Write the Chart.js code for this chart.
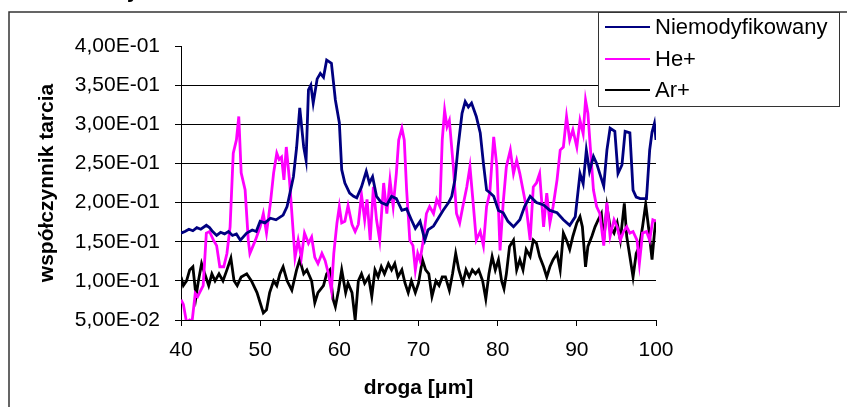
<!DOCTYPE html>
<html><head><meta charset="utf-8">
<script src="https://cdn.jsdelivr.net/npm/chart.js@4/dist/chart.umd.min.js"></script>
<style>html,body{margin:0;padding:0;background:#fff;overflow:hidden}#wrap{width:847px;height:407px;position:relative}</style>
</head><body><div id="wrap"><canvas id="c" width="847" height="407"></canvas></div>
<script>
const seriesNames = ['Niemodyfikowany', 'He+', 'Ar+'];
const seriesColors = ['#000080', '#FF00FF', '#000000'];
const xTicks = [40, 50, 60, 70, 80, 90, 100];
const yTicks = [0.05, 0.10, 0.15, 0.20, 0.25, 0.30, 0.35, 0.40];
const yTickLabels = ['5,00E-02', '1,00E-01', '1,50E-01', '2,00E-01', '2,50E-01', '3,00E-01', '3,50E-01', '4,00E-01'];
const xTitle = 'droga [\u03bcm]';
const yTitle = 'współczynnik tarcia';

const niemodyfikowany = [[40,0.161],[40.5,0.163],[41,0.166],[41.5,0.164],[42,0.168],[42.5,0.166],[43.2,0.171],[43.6,0.168],[44,0.163],[44.5,0.158],[45,0.162],[45.5,0.16],[46,0.163],[46.5,0.158],[47,0.16],[47.5,0.152],[48.3,0.161],[49,0.165],[49.5,0.163],[50,0.176],[50.6,0.174],[51.3,0.18],[52,0.178],[52.9,0.184],[53.4,0.195],[54.2,0.233],[54.6,0.27],[55,0.321],[55.5,0.271],[55.8,0.254],[56.1,0.344],[56.4,0.35],[56.7,0.327],[57.2,0.358],[57.6,0.365],[58,0.36],[58.4,0.382],[58.7,0.38],[59,0.378],[59.5,0.331],[60,0.302],[60.3,0.242],[60.7,0.225],[61.3,0.212],[61.8,0.208],[62.2,0.206],[62.8,0.22],[63.4,0.24],[63.8,0.225],[64.2,0.233],[64.7,0.208],[65.3,0.2],[66,0.197],[66.6,0.208],[67.2,0.205],[67.9,0.19],[68.5,0.192],[69.1,0.178],[69.6,0.167],[70.2,0.176],[70.8,0.152],[71.2,0.165],[71.9,0.17],[72.5,0.18],[73.1,0.19],[73.8,0.2],[74.2,0.208],[74.6,0.229],[75,0.271],[75.5,0.314],[75.9,0.329],[76.3,0.322],[76.7,0.327],[77.3,0.31],[77.8,0.289],[78.2,0.25],[78.6,0.216],[79.1,0.212],[79.5,0.208],[80.1,0.19],[80.7,0.187],[81.3,0.176],[82,0.169],[82.8,0.178],[83.4,0.195],[84.1,0.208],[84.9,0.2],[85.8,0.197],[86.6,0.19],[87.5,0.187],[88.3,0.178],[89.1,0.171],[89.8,0.182],[90.4,0.237],[90.8,0.224],[91.2,0.267],[91.6,0.24],[92.1,0.259],[92.5,0.25],[92.9,0.237],[93.4,0.221],[93.8,0.267],[94.2,0.295],[94.8,0.291],[95.2,0.237],[95.7,0.248],[96.1,0.291],[96.7,0.289],[97.1,0.216],[97.5,0.207],[98,0.205],[98.8,0.205],[99.2,0.267],[99.5,0.29],[99.8,0.301],[100,0.28]];

const hePlus = [[40,0.076],[40.3,0.07],[40.7,0.047],[41.1,0.05],[41.4,0.048],[41.8,0.084],[42.1,0.08],[42.4,0.086],[42.8,0.094],[43.2,0.161],[43.6,0.163],[44.1,0.152],[44.5,0.145],[44.9,0.118],[45.4,0.118],[45.8,0.135],[46.2,0.169],[46.6,0.263],[47,0.28],[47.3,0.31],[47.6,0.238],[48.1,0.216],[48.5,0.152],[48.7,0.135],[49.4,0.152],[50,0.169],[50.4,0.186],[50.8,0.161],[51.3,0.2],[51.7,0.238],[52.1,0.263],[52.4,0.255],[52.7,0.258],[53,0.229],[53.3,0.271],[53.7,0.229],[54,0.187],[54.4,0.13],[54.8,0.152],[55.2,0.13],[55.6,0.161],[56.1,0.148],[56.5,0.156],[56.9,0.13],[57.3,0.122],[57.8,0.135],[58.2,0.126],[58.6,0.11],[59,0.088],[59.3,0.135],[59.7,0.174],[60,0.195],[60.3,0.174],[60.7,0.176],[61.1,0.196],[61.6,0.172],[62,0.163],[62.4,0.172],[62.8,0.21],[63.2,0.178],[63.5,0.204],[63.9,0.152],[64.3,0.22],[64.7,0.178],[65.1,0.152],[65.6,0.225],[66,0.186],[66.4,0.229],[66.8,0.195],[67.2,0.237],[67.5,0.28],[67.9,0.295],[68.2,0.28],[68.5,0.216],[68.9,0.152],[69.3,0.145],[69.6,0.114],[69.9,0.135],[70.2,0.126],[70.6,0.152],[71,0.186],[71.4,0.195],[71.9,0.186],[72.3,0.204],[72.7,0.195],[73,0.28],[73.3,0.318],[73.6,0.297],[73.9,0.305],[74.4,0.246],[74.8,0.186],[75.2,0.174],[75.6,0.195],[76.1,0.22],[76.5,0.246],[76.9,0.2],[77.3,0.152],[77.8,0.163],[78.2,0.145],[78.6,0.195],[79,0.212],[79.5,0.284],[79.9,0.246],[80.3,0.139],[80.7,0.2],[81.1,0.246],[81.6,0.267],[82,0.237],[82.4,0.254],[82.8,0.237],[83.2,0.216],[83.6,0.195],[84.1,0.152],[84.5,0.22],[84.9,0.225],[85.3,0.237],[85.8,0.169],[86.2,0.212],[86.6,0.174],[87,0.195],[87.5,0.229],[87.9,0.267],[88.3,0.271],[88.7,0.31],[89.1,0.28],[89.5,0.293],[90,0.271],[90.4,0.305],[90.8,0.288],[91.1,0.331],[91.4,0.314],[91.7,0.271],[92.1,0.216],[92.5,0.195],[92.9,0.186],[93.4,0.145],[93.8,0.2],[94.2,0.157],[94.7,0.178],[95.1,0.169],[95.5,0.152],[95.9,0.163],[96.3,0.169],[96.7,0.161],[97.1,0.163],[97.6,0.152],[97.9,0.122],[98.3,0.161],[98.8,0.163],[99.2,0.152],[99.6,0.178],[100,0.176]];

const arPlus = [[40,0.105],[40.3,0.094],[40.7,0.1],[41.1,0.114],[41.5,0.118],[41.9,0.08],[42.2,0.1],[42.6,0.122],[43,0.109],[43.5,0.094],[43.9,0.109],[44.3,0.1],[44.8,0.109],[45.3,0.1],[45.8,0.114],[46.3,0.129],[46.7,0.1],[47.1,0.094],[47.6,0.105],[48.3,0.109],[48.9,0.1],[49.6,0.085],[50,0.072],[50.4,0.059],[50.8,0.063],[51.2,0.085],[51.7,0.1],[52.1,0.094],[52.5,0.109],[52.9,0.118],[53.4,0.1],[54,0.088],[54.6,0.114],[55,0.127],[55.5,0.109],[55.9,0.114],[56.5,0.1],[56.9,0.072],[57.3,0.085],[58,0.094],[58.4,0.109],[58.8,0.114],[59.2,0.077],[59.5,0.067],[59.9,0.088],[60.3,0.114],[60.8,0.085],[61.1,0.097],[61.6,0.085],[62,0.05],[62.4,0.1],[62.8,0.109],[63.2,0.097],[63.7,0.105],[64.1,0.08],[64.5,0.114],[64.9,0.105],[65.3,0.118],[65.7,0.109],[66.2,0.122],[66.6,0.114],[67,0.122],[67.4,0.105],[67.9,0.114],[68.3,0.097],[68.7,0.085],[69.1,0.1],[69.6,0.085],[70,0.097],[70.5,0.127],[70.9,0.114],[71.3,0.109],[71.7,0.08],[72.2,0.1],[72.6,0.094],[73,0.105],[73.4,0.105],[73.9,0.088],[74.3,0.109],[74.7,0.135],[75.1,0.114],[75.6,0.097],[76,0.114],[76.4,0.105],[76.8,0.114],[77.2,0.109],[77.6,0.114],[78.1,0.1],[78.5,0.077],[78.9,0.109],[79.3,0.131],[79.7,0.114],[80.1,0.127],[80.5,0.1],[80.8,0.09],[81.1,0.109],[81.5,0.144],[82,0.152],[82.4,0.114],[82.8,0.127],[83.2,0.114],[83.6,0.14],[84.1,0.131],[84.5,0.152],[84.9,0.148],[85.3,0.131],[85.8,0.118],[86.2,0.105],[86.6,0.118],[87,0.127],[87.5,0.135],[87.9,0.114],[88.3,0.161],[88.7,0.152],[89.1,0.14],[89.5,0.157],[90,0.174],[90.4,0.182],[90.7,0.169],[91.1,0.118],[91.4,0.144],[91.9,0.157],[92.3,0.169],[92.7,0.178],[93.1,0.186],[93.4,0.152],[93.8,0.195],[94.2,0.169],[94.7,0.161],[95.1,0.174],[95.5,0.152],[96,0.199],[96.3,0.157],[96.7,0.131],[97.1,0.105],[97.5,0.135],[97.9,0.144],[98.3,0.169],[98.7,0.198],[99.1,0.165],[99.5,0.127],[99.8,0.161],[100,0.178]];

const seriesData = [niemodyfikowany, hePlus, arPlus];
const FONT = "'Liberation Sans', Arial, sans-serif";

const framePlugin = {
  id: 'frame',
  beforeDraw(chart) {
    const ctx = chart.ctx;
    ctx.save();
    ctx.fillStyle = '#fff';
    ctx.fillRect(0, 0, chart.width, chart.height);
    ctx.restore();
  },
  afterDraw(chart) {
    const ctx = chart.ctx;
    ctx.save();
    ctx.strokeStyle = '#333';
    ctx.lineWidth = 1.5;
    ctx.beginPath();
    ctx.moveTo(9, chart.height + 2);
    ctx.lineTo(9, 12);
    ctx.lineTo(chart.width + 2, 12);
    ctx.stroke();
    ctx.fillStyle = '#000';
    ctx.font = "bold 21px " + FONT;
    ctx.textBaseline = 'alphabetic';
    ctx.textAlign = 'left';
    ctx.fillText('y', 127, -2);
    const bx = 598.5, by = 12.5, bw = 241, bh = 94;
    ctx.fillStyle = '#fff';
    ctx.fillRect(bx, by, bw, bh);
    ctx.strokeStyle = '#333';
    ctx.lineWidth = 1;
    ctx.strokeRect(bx, by, bw, bh);
    const rows = [27, 59, 90];
    ctx.font = "22px " + FONT;
    ctx.textBaseline = 'middle';
    chart.data.datasets.forEach((ds, i) => {
      ctx.strokeStyle = ds.borderColor;
      ctx.lineWidth = 2;
      ctx.beginPath();
      ctx.moveTo(605, rows[i]);
      ctx.lineTo(650, rows[i]);
      ctx.stroke();
      ctx.fillStyle = '#000';
      ctx.fillText(ds.label, 655, rows[i] + 1);
    });
    ctx.restore();
  }
};

new Chart(document.getElementById('c'), {
  type: 'line',
  data: {
    datasets: seriesNames.map((name, i) => ({
      label: name,
      data: seriesData[i].map(p => ({x: p[0], y: p[1]})),
      borderColor: seriesColors[i],
      backgroundColor: seriesColors[i],
      borderWidth: 2.8,
      pointRadius: 0,
      tension: 0,
      fill: false
    }))
  },
  options: {
    responsive: false,
    animation: false,
    devicePixelRatio: 1,
    layout: { padding: { left: 0, top: 46, right: 191, bottom: 0 } },
    plugins: { legend: { display: false }, tooltip: { enabled: false }, title: { display: false } },
    scales: {
      x: {
        type: 'linear',
        min: 40, max: 100,
        afterBuildTicks: s => { s.ticks = xTicks.map(v => ({value: v})); },
        afterFit: s => { s.height = 87; },
        ticks: { color: '#000', font: { family: FONT, size: 21 }, padding: 12, maxRotation: 0, autoSkip: false },
        grid: { drawOnChartArea: false, drawTicks: true, tickLength: 6, tickColor: '#000', color: '#000' },
        border: { display: true, color: '#000', width: 1 },
        title: { display: true, text: xTitle, color: '#000', font: { family: FONT, size: 21, weight: 'bold' }, padding: { top: 0, bottom: 6 } }
      },
      y: {
        type: 'linear',
        min: 0.05, max: 0.40,
        afterBuildTicks: s => { s.ticks = yTicks.map(v => ({value: v})); },
        afterFit: s => { s.width = 181; },
        ticks: {
          color: '#000', font: { family: FONT, size: 21 }, padding: 15, autoSkip: false,
          callback: (v) => { const i = yTicks.findIndex(t => Math.abs(t - v) < 1e-9); return i >= 0 ? yTickLabels[i] : ''; }
        },
        grid: {
          drawTicks: true, tickLength: 6, tickColor: '#000', lineWidth: 1,
          color: c => (c.tick && Math.abs(c.tick.value - 0.40) < 1e-9) ? 'rgba(0,0,0,0)' : '#000'
        },
        border: { display: true, color: '#000', width: 1 },
        title: { display: true, text: yTitle, color: '#000', font: { family: FONT, size: 21, weight: 'bold' }, padding: { top: 35, bottom: 0 } }
      }
    }
  },
  plugins: [framePlugin]
});
</script>
</body></html>
